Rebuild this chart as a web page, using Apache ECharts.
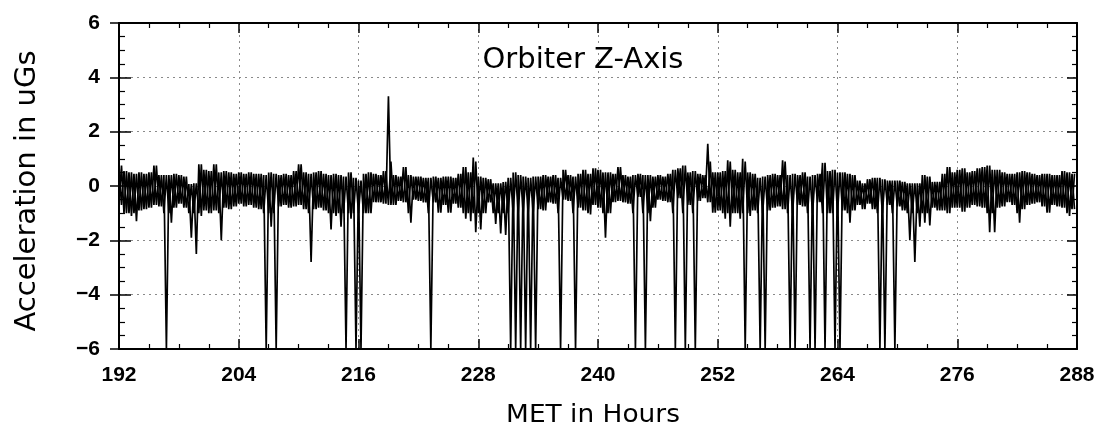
<!DOCTYPE html>
<html>
<head>
<meta charset="utf-8">
<title>Orbiter Z-Axis</title>
<script src="https://cdn.jsdelivr.net/npm/echarts@6/dist/echarts.min.js"></script>
<style>
  html, body { margin: 0; padding: 0; background: #ffffff; }
  #chart { width: 1107px; height: 435px; }
</style>
</head>
<body>
<div id="chart"></div>
<script>
// Mission elapsed time axis (hours) and acceleration axis (micro-g)
const xTicks = [192, 204, 216, 228, 240, 252, 264, 276, 288];
const yTicks = [-6, -4, -2, 0, 2, 4, 6];

// Trace is stored as a min/max envelope per half-hour bin, starting at 192 h.
const binStart = 192;
const binHours = 0.5;

// Highest reading in each bin (uG)
const binMax = [
  0.75, 0.55, 0.5, 0.45, 0.5, 0.45, 0.5, 0.75, 0.4, 0.4, 0.4, 0.45, 0.4, 0.35, 0.07, 0.1, 0.8, 0.6, 0.55, 0.8, 0.5, 0.55, 0.5, 0.45,
  0.5, 0.45, 0.5, 0.45, 0.45, 0.4, 0.5, 0.45, 0.4, 0.45, 0.4, 0.55, 0.8, 0.5, 0.45, 0.5, 0.55, 0.45, 0.4, 0.45, 0.4, 0.35, 0.5, 0.3,
  0.2, 0.45, 0.5, 0.45, 0.4, 0.55, 3.3, 0.4, 0.35, 0.7, 0.4, 0.35, 0.35, 0.3, 0.3, 0.35, 0.3, 0.35, 0.35, 0.3, 0.45, 0.7, 0.5, 1.05,
  0.35, 0.3, 0.25, 0.1, 0.1, 0.15, 0.3, 0.5, 0.4, 0.35, 0.3, 0.35, 0.35, 0.4, 0.35, 0.4, 0.3, 0.6, 0.4, 0.35, 0.45, 0.6, 0.45, 0.65,
  0.6, 0.5, 0.5, 0.45, 0.7, 0.4, 0.35, 0.4, 0.45, 0.4, 0.4, 0.35, 0.4, 0.35, 0.45, 0.6, 0.65, 0.75, 0.5, 0.55, 0.45, 0.4, 1.55, 0.5,
  0.5, 0.55, 0.95, 0.6, 0.5, 1.0, 0.5, 0.45, 0.3, 0.35, 0.4, 0.45, 0.4, 0.95, 0.4, 0.45, 0.4, 0.5, 0.35, 0.4, 0.45, 0.85, 0.55, 0.6,
  0.5, 0.5, 0.45, 0.4, 0.2, 0.1, 0.25, 0.3, 0.3, 0.25, 0.2, 0.2, 0.2, 0.15, 0.1, 0.1, 0.1, 0.4, 0.35, 0.15, 0.15, 0.45, 0.7, 0.5,
  0.6, 0.65, 0.5, 0.55, 0.65, 0.7, 0.75, 0.6, 0.6, 0.5, 0.45, 0.45, 0.5, 0.55, 0.5, 0.45, 0.4, 0.45, 0.45, 0.4, 0.4, 0.55, 0.5, 0.45
];

// Lowest reading in each bin (uG); -6 marks transients that run off the scale
const binMin = [
  -0.7, -1.0, -1.1, -1.3, -0.9, -0.85, -0.8, -0.7, -0.75, -6, -1.35, -0.8, -0.65, -0.8, -1.9, -2.5, -1.1, -0.9, -1.0, -0.9, -2.0, -0.8, -0.85, -0.75,
  -0.65, -0.75, -0.7, -0.8, -0.85, -6, -1.5, -6, -0.75, -0.7, -0.8, -0.75, -0.7, -0.85, -2.8, -0.85, -0.8, -0.9, -1.6, -1.1, -1.5, -6, -1.2, -6,
  -6, -1.0, -1.0, -0.6, -0.6, -0.65, -0.7, -0.7, -0.55, -0.6, -1.35, -0.5, -0.55, -0.6, -6, -0.6, -0.98, -0.7, -0.98, -0.65, -0.8, -1.2, -1.3, -1.7,
  -1.6, -1.0, -0.6, -1.4, -1.75, -1.8, -6, -6, -6, -6, -6, -6, -0.85, -0.9, -0.6, -0.65, -6, -0.5, -0.55, -6, -0.8, -0.9, -1.05, -0.7,
  -0.8, -1.9, -1.0, -0.6, -0.55, -0.6, -0.65, -6, -0.4, -6, -1.3, -0.8, -0.5, -0.55, -0.6, -6, -0.45, -6, -0.7, -6, -0.55, -0.45, -0.6, -0.98,
  -0.9, -1.2, -1.5, -1.0, -1.2, -6, -1.1, -0.9, -6, -6, -0.9, -0.8, -0.75, -0.85, -6, -6, -0.7, -0.75, -6, -6, -0.6, -6, -1.0, -6,
  -6, -0.9, -1.35, -0.9, -0.7, -0.85, -0.65, -0.85, -6, -6, -0.7, -6, -0.75, -0.9, -2.0, -2.8, -1.5, -1.35, -1.45, -0.8, -0.9, -0.9, -1.0, -0.8,
  -0.8, -0.95, -0.8, -0.7, -0.75, -0.8, -1.7, -1.7, -0.8, -0.75, -0.6, -0.7, -1.35, -0.85, -0.7, -0.65, -0.6, -0.75, -0.98, -0.7, -0.75, -0.8, -1.1, -0.85
];

// Main trace: each bin's max, then its min a quarter hour later.
const trace = [];
// Counter-phase hatch that fills the body of the noise band; its excursions are
// held to the band so off-scale transients are drawn only once, by the main trace.
const bandFloor = -1.0, bandCeil = 0.9;
const hatch = [];
for (let i = 0; i < binMax.length; i++) {
  const t = binStart + i * binHours;
  trace.push([t, binMax[i]]);
  trace.push([t + binHours / 2, binMin[i]]);
  hatch.push([t, Math.max(binMin[i], bandFloor)]);
  hatch.push([t + binHours / 2, Math.min(binMax[i], bandCeil)]);
}

const tickFont = { fontFamily: 'Liberation Sans, Arial, sans-serif', fontWeight: 'bold', fontSize: 21, color: '#000' };
const fmtMinus = v => String(v).replace('-', '\u2212');

const xMin = xTicks[0], xMax = xTicks[xTicks.length - 1], xStep = xTicks[1] - xTicks[0];
const yMin = yTicks[0], yMax = yTicks[yTicks.length - 1], yStep = yTicks[1] - yTicks[0];

const frameLine = { show: true, onZero: false, lineStyle: { color: '#000', width: 2 } };
const innerTick = { show: true, inside: true, length: 10, lineStyle: { color: '#000', width: 1.5 } };
const outerTick = { show: true, inside: false, length: 10, lineStyle: { color: '#000', width: 1.5 } };
const minor = { show: true, splitNumber: 4, length: 5, lineStyle: { color: '#000', width: 1.2 } };
const gridLine = { show: true, lineStyle: { color: '#8a8a8a', width: 1, type: [2, 4] } };

const traceStyle = { color: '#000', width: 1.7, join: 'miter', miterLimit: 3 };

const chart = echarts.init(document.getElementById('chart'), null, { renderer: 'canvas' });
chart.setOption({
  animation: false,
  backgroundColor: '#ffffff',
  grid: { left: 119, right: 30, top: 23, bottom: 86, containLabel: false },
  xAxis: [
    {
      type: 'value', position: 'bottom', min: xMin, max: xMax, interval: xStep,
      axisLine: frameLine, axisTick: innerTick, minorTick: minor,
      axisLabel: Object.assign({ margin: 16 }, tickFont),
      splitLine: gridLine
    },
    {
      type: 'value', position: 'top', min: xMin, max: xMax, interval: xStep,
      axisLine: frameLine, axisTick: innerTick, minorTick: minor,
      axisLabel: { show: false }, splitLine: { show: false }
    },
    {
      type: 'value', position: 'bottom', min: xMin, max: xMax, interval: xStep,
      axisLine: { show: false }, axisTick: outerTick, minorTick: { show: false },
      axisLabel: { show: false }, splitLine: { show: false }
    }
  ],
  yAxis: [
    {
      type: 'value', position: 'left', min: yMin, max: yMax, interval: yStep,
      axisLine: frameLine, axisTick: Object.assign({}, innerTick, { length: 12 }), minorTick: Object.assign({}, minor, { length: 6 }),
      axisLabel: Object.assign({ margin: 19, formatter: fmtMinus }, tickFont),
      splitLine: gridLine
    },
    {
      type: 'value', position: 'right', min: yMin, max: yMax, interval: yStep,
      axisLine: frameLine, axisTick: innerTick, minorTick: minor,
      axisLabel: { show: false }, splitLine: { show: false }
    },
    {
      type: 'value', position: 'left', min: yMin, max: yMax, interval: yStep,
      axisLine: { show: false }, axisTick: Object.assign({}, outerTick, { length: 9 }), minorTick: { show: false },
      axisLabel: { show: false }, splitLine: { show: false }
    }
  ],
  series: [
    {
      name: 'Orbiter Z-Axis',
      type: 'line', xAxisIndex: 0, yAxisIndex: 0,
      data: trace, showSymbol: false, symbol: 'none', clip: true,
      lineStyle: traceStyle, z: 3
    },
    {
      name: 'band',
      type: 'line', xAxisIndex: 0, yAxisIndex: 0,
      data: hatch, showSymbol: false, symbol: 'none', clip: true,
      lineStyle: traceStyle, z: 3
    }
  ],
  graphic: [
    {
      type: 'text', x: 583, y: 60, z: 10,
      style: { text: 'Orbiter Z-Axis', font: '29px "DejaVu Sans", sans-serif', fill: '#000', align: 'center', verticalAlign: 'middle' }
    },
    {
      type: 'text', x: 593, y: 416, scaleX: 1.1,
      style: { text: 'MET in Hours', font: '24px "DejaVu Sans", sans-serif', fill: '#000', align: 'center', verticalAlign: 'middle' }
    },
    {
      type: 'text', x: 27, y: 191, rotation: Math.PI / 2,
      style: { text: 'Acceleration in uGs', font: '29px "DejaVu Sans", sans-serif', fill: '#000', align: 'center', verticalAlign: 'middle' }
    }
  ]
});
</script>
</body>
</html>
